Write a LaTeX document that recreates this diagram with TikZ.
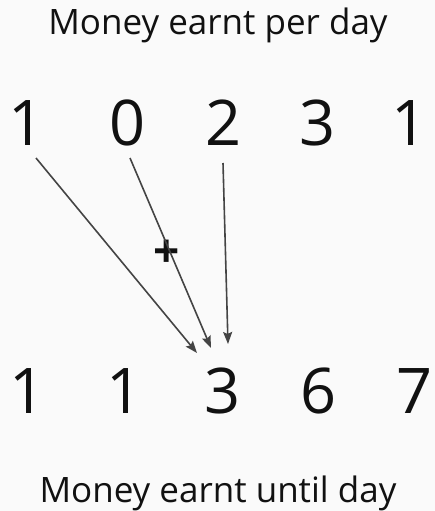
\documentclass[tikz,border=0pt]{standalone}
\usepackage{fontspec}
\setmainfont{Open Sans}
\usepackage{tikz}
\usetikzlibrary{arrows.meta,positioning,calc}
\definecolor{bgc}{HTML}{FAFAFA}
\definecolor{arrc}{HTML}{444444}
\definecolor{txtc}{HTML}{111111}

\begin{document}
\begin{tikzpicture}[
  x=1pt, y=-1pt,
  digit/.style={anchor=base, inner sep=0pt, text=txtc, font=\fontsize{63}{63}\selectfont},
  label text/.style={anchor=base, inner sep=0pt, text=txtc, font=\fontsize{35}{35}\selectfont},
  plusmark/.style={inner sep=0pt, text=txtc, font=\fontsize{46}{46}\selectfont\bfseries},
  arr/.style={-{Stealth[length=12pt,width=9pt,inset=2pt]}, line width=1.6pt, draw=arrc}
]
\fill[bgc] (0,0) rectangle (435,511);
\useasboundingbox (0,0) rectangle (435,511);
\node[label text] (title) at (218,35) {Money earnt per day};
\node[digit] (d1) at (27,145) {1};
\node[digit] (d2) at (128,145) {0};
\node[digit] (d3) at (224,145) {2};
\node[digit] (d4) at (318,145) {3};
\node[digit] (d5) at (410,145) {1};
\node[digit] (s1) at (28,413) {1};
\node[digit] (s2) at (125,413) {1};
\node[digit] (s3) at (223,413) {3};
\node[digit] (s4) at (319,413) {6};
\node[digit] (s5) at (415,413) {7};
\node[label text] (caption) at (218,502) {Money earnt until day};
\node[plusmark] (plus) at (167,254) {+};
\draw[arr] ([shift={(9,13)}]d1.base) -- ([shift={(-26,-60)}]s3.base);
\draw[arr] ([shift={(2,13)}]d2.base) -- ([shift={(-12,-65)}]s3.base);
\draw[arr] ([shift={(-1,18)}]d3.base) -- ([shift={(5,-69)}]s3.base);
\end{tikzpicture}
\end{document}
